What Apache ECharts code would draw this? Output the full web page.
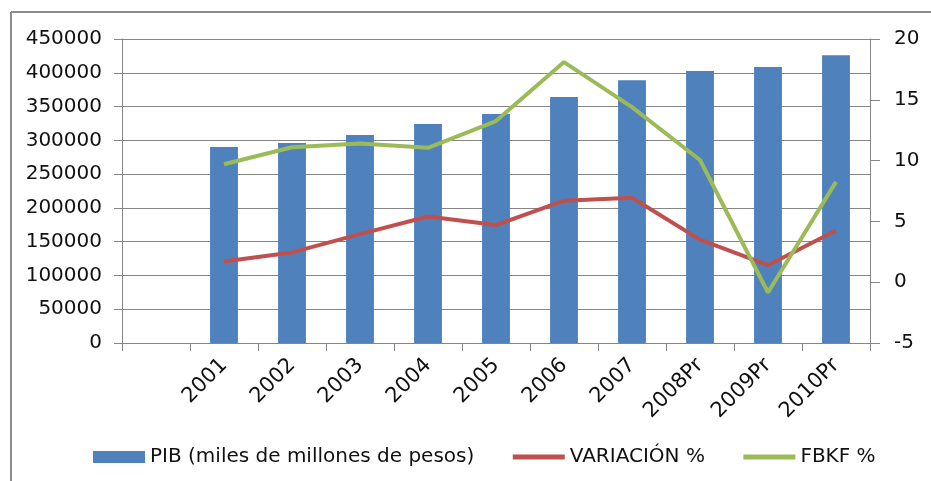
<!DOCTYPE html>
<html>
<head>
<meta charset="utf-8">
<script src="https://cdn.jsdelivr.net/npm/echarts@6/dist/echarts.min.js"></script>
<style>
  html, body { margin: 0; padding: 0; background: #fff; }
  #main { width: 931px; height: 481px; }
</style>
</head>
<body>
<div id="main"></div>
<script>
var chartDom = document.getElementById('main');
var myChart = echarts.init(chartDom);
var option;

// first slot is left empty, like in the original sheet
const years = ['', '2001', '2002', '2003', '2004', '2005', '2006', '2007', '2008Pr', '2009Pr', '2010Pr'];
const pib = [null, 290000, 296000, 308000, 324000, 339000, 364000, 389000, 402500, 408500, 426000];
const variacion = [null, 1.7, 2.45, 3.95, 5.4, 4.7, 6.7, 6.95, 3.5, 1.4, 4.25];
const fbkf = [null, 9.7, 11.1, 11.4, 11.05, 13.25, 18.1, 14.4, 10.05, -0.85, 8.25];

const txt = '#111';
const gridGray = '#868686';
const font = 'DejaVu Sans';

option = {
  animation: false,
  textStyle: { fontFamily: font },
  graphic: [
    { type: 'line', shape: { x1: 11, y1: 12, x2: 931, y2: 12 }, style: { stroke: '#8c8c8c', lineWidth: 2 } },
    { type: 'line', shape: { x1: 11, y1: 12, x2: 11, y2: 481 }, style: { stroke: '#8c8c8c', lineWidth: 2 } },
  ],
  grid: { left: 122, right: 61, top: 39, bottom: 138, containLabel: false },
  legend: {
    top: 442,
    left: 88,
    itemGap: 36,
    itemWidth: 52,
    itemHeight: 12,
    textStyle: { fontSize: 20, color: txt, fontFamily: font },
    data: [
      { name: 'PIB (miles de millones de pesos)', icon: 'rect' },
      { name: 'VARIACIÓN %', itemStyle: { opacity: 0 }, lineStyle: { width: 5 } },
      { name: 'FBKF %', itemStyle: { opacity: 0 }, lineStyle: { width: 5 } },
    ],
  },
  xAxis: {
    type: 'category',
    data: years,
    boundaryGap: true,
    axisLine: { lineStyle: { color: gridGray, width: 1 } },
    axisTick: { show: true, interval: 0, length: 8, lineStyle: { color: gridGray } },
    axisLabel: { interval: 0, rotate: 45, margin: 19, fontSize: 21, color: txt, fontFamily: font },
    splitLine: { show: false },
  },
  yAxis: [
    {
      type: 'value',
      min: 0,
      max: 450000,
      interval: 50000,
      axisLine: { show: true, lineStyle: { color: gridGray } },
      axisTick: { show: true, length: 8, lineStyle: { color: gridGray } },
      axisLabel: { margin: 20, fontSize: 20, color: txt, fontFamily: font, formatter: (v) => String(v) },
      splitLine: { show: true, lineStyle: { color: gridGray, width: 1 } },
    },
    {
      type: 'value',
      min: -5,
      max: 20,
      interval: 5,
      position: 'right',
      axisLine: { show: true, lineStyle: { color: gridGray } },
      axisTick: { show: true, length: 10, lineStyle: { color: gridGray } },
      axisLabel: { margin: 24, fontSize: 20, color: txt, fontFamily: font },
      splitLine: { show: false },
    },
  ],
  series: [
    {
      name: 'PIB (miles de millones de pesos)',
      type: 'bar',
      data: pib,
      barWidth: '41%',
      itemStyle: { color: '#4F81BD' },
    },
    {
      name: 'VARIACIÓN %',
      type: 'line',
      yAxisIndex: 1,
      data: variacion,
      symbol: 'none',
      lineStyle: { color: '#C0504D', width: 4 },
      itemStyle: { color: '#C0504D' },
    },
    {
      name: 'FBKF %',
      type: 'line',
      yAxisIndex: 1,
      data: fbkf,
      symbol: 'none',
      lineStyle: { color: '#9BBB59', width: 4 },
      itemStyle: { color: '#9BBB59' },
    },
  ],
};

option && myChart.setOption(option);
</script>
</body>
</html>
